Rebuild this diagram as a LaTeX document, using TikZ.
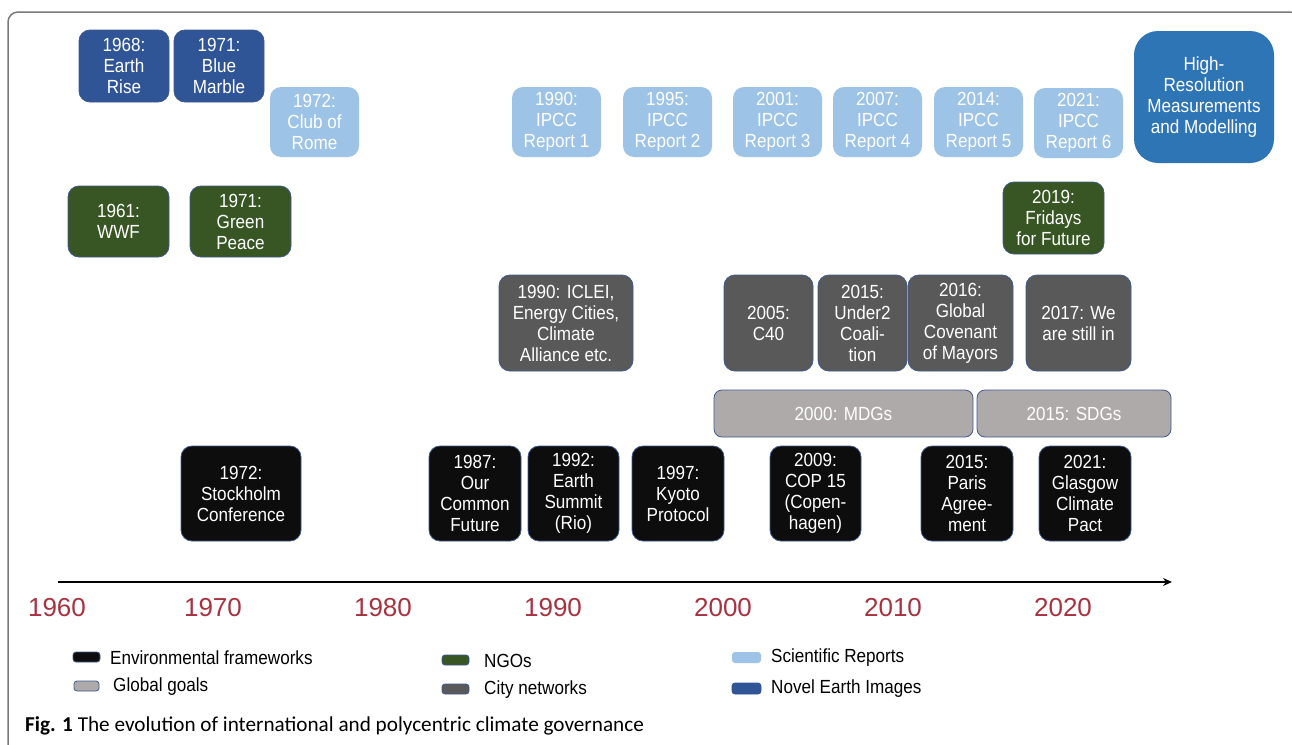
\documentclass[tikz,border=0pt]{standalone}
\usepackage{fontspec}
\setmainfont{Liberation Sans}
\newfontfamily\cond[FakeStretch=0.9]{Liberation Sans}
\newfontfamily\capfont{Carlito}
\usetikzlibrary{arrows.meta}
\definecolor{earthimg}{HTML}{2F5597}
\definecolor{sciblue}{HTML}{9DC3E6}
\definecolor{hiresblue}{HTML}{2E75B6}
\definecolor{ngogreen}{HTML}{375623}
\definecolor{citygrey}{HTML}{595959}
\definecolor{goalgrey}{HTML}{AEAAAA}
\definecolor{envblack}{HTML}{0D0D0D}
\definecolor{edgeblue}{HTML}{41598F}
\definecolor{yearred}{HTML}{A8323F}
\definecolor{framegrey}{HTML}{7A7A7A}
\tikzset{
  tlbase/.style={rounded corners=11pt, text=white, align=center, inner sep=0pt,
    font=\cond\fontsize{19}{21}\selectfont},
  imgbox/.style={tlbase, fill=earthimg, draw=edgeblue, line width=0.8pt},
  scibox/.style={tlbase, fill=sciblue},
  hiresbox/.style={tlbase, fill=hiresblue, rounded corners=24pt},
  ngobox/.style={tlbase, fill=ngogreen, draw=edgeblue, line width=0.8pt},
  citybox/.style={tlbase, fill=citygrey, draw=edgeblue, line width=0.8pt},
  goalbox/.style={tlbase, fill=goalgrey, draw=edgeblue, line width=0.8pt, rounded corners=8pt},
  envbox/.style={tlbase, fill=envblack, draw=edgeblue, line width=0.8pt},
  yearlbl/.style={text=yearred, inner sep=0pt, font=\fontsize{26}{28}\selectfont},
  swatch/.style={rounded corners=3pt, line width=0.8pt, draw=edgeblue},
  legtext/.style={anchor=west, inner sep=0pt, text=black, font=\cond\fontsize{19}{20}\selectfont},
}
\newcommand\tlbox[7]{%
  \pgfmathsetmacro\bw{#4-#2}\pgfmathsetmacro\bh{#5-#3}%
  \pgfmathsetmacro\bcx{(#2+#4)/2}\pgfmathsetmacro\bcy{(#3+#5)/2}%
  \node[#6, minimum width=\bw pt, minimum height=\bh pt] (#1) at (\bcx,\bcy) {#7};}
\begin{document}
\begin{tikzpicture}[x=1pt,y=-1pt]
\useasboundingbox (0,0) rectangle (1292,744);
\begin{scope}
\clip (0,0) rectangle (1292,744);
\draw[framegrey, line width=1.5pt, rounded corners=10pt] (8,12) rectangle (1300,800);
\end{scope}
% Novel Earth images
\tlbox{earthrise}{79}{30}{169}{102}{imgbox}{1968:\\Earth\\Rise}
\tlbox{bluemarble}{174}{30}{264}{102}{imgbox}{1971:\\Blue\\Marble}
% Scientific reports
\tlbox{rome}{270}{87}{359}{157}{scibox}{1972:\\Club of\\Rome}
\tlbox{ipcc1}{512}{87}{601}{157}{scibox}{1990:\\IPCC\\Report 1}
\tlbox{ipcc2}{623}{87}{712}{157}{scibox}{1995:\\IPCC\\Report 2}
\tlbox{ipcc3}{733}{87}{822}{157}{scibox}{2001:\\IPCC\\Report 3}
\tlbox{ipcc4}{833}{87}{922}{157}{scibox}{2007:\\IPCC\\Report 4}
\tlbox{ipcc5}{934}{87}{1023}{157}{scibox}{2014:\\IPCC\\Report 5}
\tlbox{ipcc6}{1034}{88}{1123}{158}{scibox}{2021:\\IPCC\\Report 6}
\tlbox{hires}{1134}{31}{1274}{163}{hiresbox}{High-\\Resolution\\Measurements\\and Modelling}
% NGOs
\tlbox{wwf}{68}{186}{169}{257}{ngobox}{1961:\\WWF}
\tlbox{greenpeace}{190}{186}{291}{257}{ngobox}{1971:\\Green\\Peace}
\tlbox{fridays}{1003}{182}{1104}{254}{ngobox}{2019:\\Fridays\\for Future}
% City networks
\tlbox{iclei}{499}{275}{633}{371}{citybox}{1990: ICLEI,\\Energy Cities,\\Climate\\Alliance etc.}
\tlbox{cforty}{724}{275}{813}{371}{citybox}{2005:\\C40}
\tlbox{under}{818}{275}{907}{371}{citybox}{2015:\\Under2\\Coali-\\tion}
\tlbox{covenant}{908}{275}{1013}{371}{citybox}{2016:\\Global\\Covenant\\of Mayors}
\tlbox{stillin}{1026}{275}{1131}{371}{citybox}{2017: We\\are still in}
% Global goals
\tlbox{mdgs}{714}{390}{973}{437}{goalbox}{2000: MDGs}
\tlbox{sdgs}{977}{390}{1171}{437}{goalbox}{2015: SDGs}
% Environmental frameworks
\tlbox{stockholm}{181}{446}{301}{541}{envbox}{1972:\\Stockholm\\Conference}
\tlbox{ourfuture}{429}{446}{521}{541}{envbox}{1987:\\Our\\Common\\Future}
\tlbox{rio}{528}{446}{619}{541}{envbox}{1992:\\Earth\\Summit\\(Rio)}
\tlbox{kyoto}{632}{446}{724}{541}{envbox}{1997:\\Kyoto\\Protocol}
\tlbox{cop}{770}{446}{861}{541}{envbox}{2009:\\COP 15\\(Copen-\\hagen)}
\tlbox{paris}{921}{446}{1013}{541}{envbox}{2015:\\Paris\\Agree-\\ment}
\tlbox{glasgow}{1039}{446}{1131}{541}{envbox}{2021:\\Glasgow\\Climate\\Pact}
% Timeline
\coordinate (tlstart) at (58,582);
\coordinate (tlend) at (1172,582);
\draw[line width=2.8pt, -{Stealth[length=9pt,width=8pt]}] (tlstart) -- (tlend);
\node[yearlbl] (y1960) at (57,608) {1960};
\node[yearlbl] (y1970) at (213,608) {1970};
\node[yearlbl] (y1980) at (383,608) {1980};
\node[yearlbl] (y1990) at (553,608) {1990};
\node[yearlbl] (y2000) at (723,608) {2000};
\node[yearlbl] (y2010) at (893,608) {2010};
\node[yearlbl] (y2020) at (1063,608) {2020};
% Legend
\fill[envblack, swatch] (73,652) rectangle (100,662);
\node[legtext] (lenv) at (110,658) {Environmental frameworks};
\fill[goalgrey, swatch] (74,681) rectangle (99,691);
\node[legtext] (lgoal) at (113,687) {Global goals};
\fill[ngogreen, swatch] (442,655) rectangle (469,665);
\node[legtext] (lngo) at (484,661) {NGOs};
\fill[citygrey, swatch] (442,684) rectangle (469,694);
\node[legtext] (lcity) at (484,690) {City networks};
\fill[sciblue] [rounded corners=3pt] (732,652) rectangle (761,663);
\node[legtext] (lsci) at (771,658) {Scientific Reports};
\fill[earthimg, swatch, draw=earthimg] (732,683) rectangle (761,694);
\node[legtext] (limg) at (771,689) {Novel Earth Images};
% Caption
\node[anchor=base west, inner sep=0pt, font=\capfont\fontsize{21.2}{24}\selectfont] (caption) at (25,731) {\textbf{Fig. 1} The evolution of international and polycentric climate governance};
\end{tikzpicture}
\end{document}
